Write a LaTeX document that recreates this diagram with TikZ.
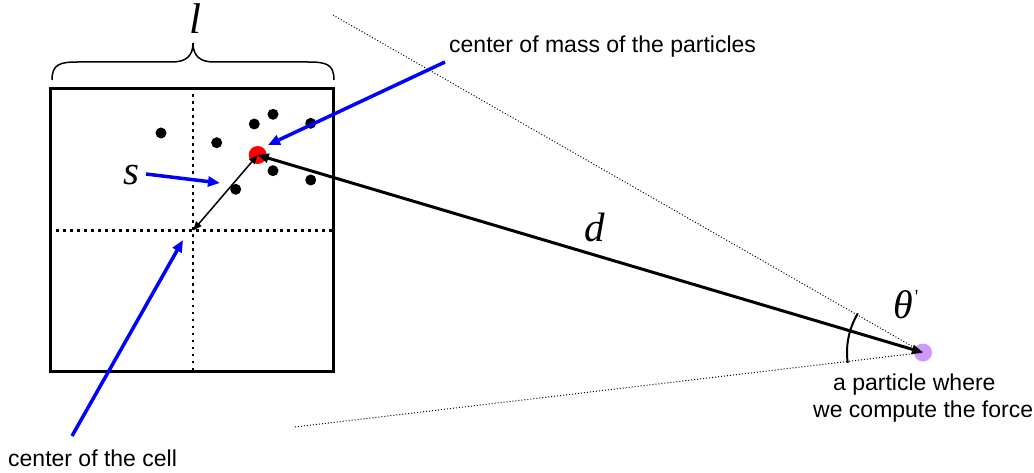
\documentclass[tikz,border=0pt]{standalone}
\usepackage{fontspec}
\setmainfont{Liberation Sans}
\newfontfamily\timesfont{Liberation Serif}
\usetikzlibrary{arrows.meta}
\definecolor{lilac}{RGB}{204,153,255}
\begin{document}
\begin{tikzpicture}[x=1pt,y=-1pt,
  dotp/.style={circle,fill=black,inner sep=0pt,minimum size=11pt},
  bigdot/.style={circle,inner sep=0pt,minimum size=18pt},
  lbl/.style={font=\fontsize{23}{27}\selectfont,inner sep=0pt,anchor=base west},
  sym/.style={font=\fontsize{41}{43}\selectfont\timesfont\itshape,inner sep=0pt},
  bluearrow/.style={draw=blue,line width=3.5pt,-{Triangle[length=12pt,width=10pt]}},
  crossline/.style={line width=2.5pt,dash pattern=on 2.5pt off 4.5pt},
  coneline/.style={line width=1pt,dash pattern=on 1pt off 2pt},
  darrow/.style={line width=3pt,{Triangle[length=11pt,width=9pt]}-{Triangle[length=11pt,width=9pt]}},
  sarrow/.style={line width=1.5pt,{Triangle[length=9pt,width=7pt]}-{Triangle[length=9pt,width=7pt]}}]
\useasboundingbox (0,0) rectangle (1034,473);

% cone lines
\coordinate (ut) at (333,15);
\coordinate (lt) at (295,427);
\node[bigdot,fill=lilac] (pp) at (923,352.5) {};
\draw[coneline] (ut) -- (pp.center);
\draw[coneline] (lt) -- (pp.center);

% cell
\node[draw,line width=3pt,minimum width=283pt,minimum height=282pt,inner sep=0pt] (cell) at (192,230) {};
\coordinate (cc) at (193,230.5);
\draw[crossline] (cc |- cell.north) -- (cc |- cell.south);
\draw[crossline] (cc -| cell.west) -- (cc -| cell.east);

% brace
\draw[line width=1.5pt] (52,80) .. controls (52,64) and (60,62) .. (78,62)
  -- (172,62) .. controls (186,62) and (193,56) .. (193,43)
  .. controls (193,56) and (200,62) .. (214,62)
  -- (308,62) .. controls (326,62) and (334,64) .. (334,80);
\node[sym,font=\fontsize{43}{45}\selectfont\timesfont\itshape] (l) at (195,19) {l};

% particles
\node[dotp] (p1) at (161,133) {};
\node[dotp] (p2) at (216.7,142.7) {};
\node[dotp] (p3) at (254.3,124) {};
\node[dotp] (p4) at (273,114.3) {};
\node[dotp] (p5) at (310.7,123.3) {};
\node[dotp] (p6) at (273,170.7) {};
\node[dotp] (p7) at (310.7,180) {};
\node[dotp] (p8) at (235.7,189.3) {};
\node[bigdot,fill=red] (cm) at (257.7,155) {};

% arrows
\draw[sarrow] (cm.center) -- (cc);
\draw[darrow] (pp.center) -- (cm.center);

% arc
\draw[line width=2pt] (pp.center) ++(211:76) arc[start angle=211,end angle=172,radius=76];

% labels
\node[sym] (s) at (131,175) {s};
\node[sym] (d) at (595,227) {d};
\node[sym,font=\fontsize{40}{42}\selectfont\timesfont\itshape,anchor=west] (th) at (893,305) {θ\raisebox{15pt}{\fontsize{20}{20}\selectfont\upshape\kern2pt'}};

\node[lbl] (tcm) at (449,53) {center of mass of the particles};
\node[lbl] (tcell) at (8,466) {center of the cell};
\node[lbl] (tp1) at (833,390) {a particle where};
\node[lbl] (tp2) at (813,417) {we compute the force};

\coordinate (bcm0) at (445,62);
\coordinate (bcm1) at (268,145);
\coordinate (bs0) at (146,174);
\coordinate (bs1) at (220,183);
\coordinate (bc0) at (72,436);
\coordinate (bc1) at (183,240);
\draw[bluearrow] (bcm0) -- (bcm1);
\draw[bluearrow] (bs0) -- (bs1);
\draw[bluearrow] (bc0) -- (bc1);
\end{tikzpicture}
\end{document}
